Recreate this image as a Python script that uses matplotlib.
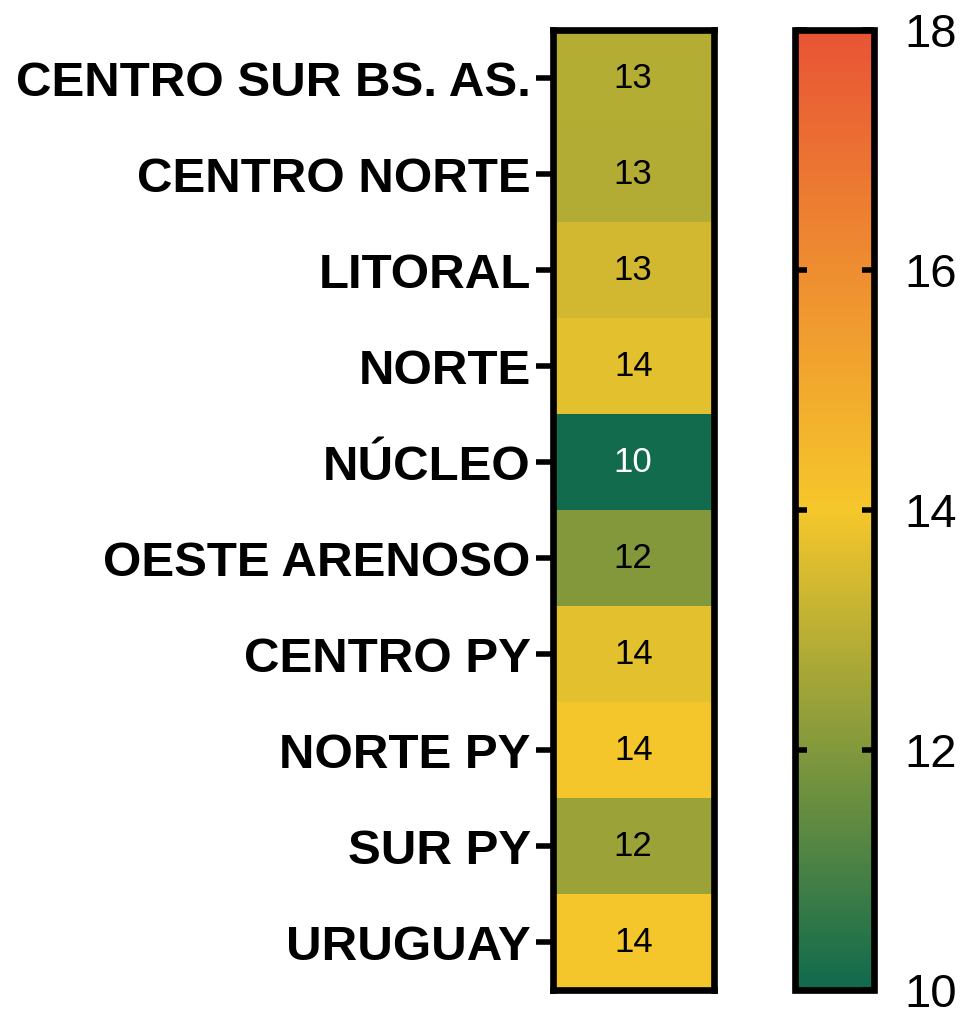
import numpy as np
import matplotlib
matplotlib.use("Agg")
import matplotlib.pyplot as plt
from matplotlib.colors import LinearSegmentedColormap, Normalize

plt.rcParams['font.family'] = ['Liberation Sans', 'DejaVu Sans']

regions = ["CENTRO SUR BS. AS.", "CENTRO NORTE", "LITORAL", "NORTE", "NÚCLEO",
           "OESTE ARENOSO", "CENTRO PY", "NORTE PY", "SUR PY", "URUGUAY"]
values = [12.89, 12.85, 13.40, 13.69, 10.07, 12.03, 13.69, 13.97, 12.45, 13.97]
cbar_ticks = [10, 12, 14, 16, 18]
vmin, vmax = 10, 18

cmap = LinearSegmentedColormap.from_list(
    "gyr", [(0.0, "#0f6a4d"), (0.5, "#f5c72b"), (1.0, "#e85435")])
norm = Normalize(vmin=vmin, vmax=vmax)

W, H = 969, 1015
fig = plt.figure(figsize=(W / 100, H / 100), dpi=100)

top_px, bot_px = 30, 990
ax = fig.add_axes([553 / W, (H - bot_px) / H, (713.5 - 553) / W, (bot_px - top_px) / H])
cax = fig.add_axes([795 / W, (H - bot_px) / H, (874 - 795) / W, (bot_px - top_px) / H])

data = np.array(values).reshape(-1, 1)
n = len(regions)
ax.imshow(data, cmap=cmap, norm=norm, aspect='auto',
          extent=(-0.5, 0.5, n - 0.5, -0.5), interpolation='nearest')
ax.set_xlim(-0.5, 0.5)
ax.set_ylim(n - 0.5, -0.5)

for i, v in enumerate(values):
    col = 'white' if v < 11 else 'black'
    ax.text(0, i, f"{v:.0f}", ha='center', va='center', fontsize=25, color=col)

ax.set_xticks([])
ax.set_yticks(range(n))
ax.set_yticklabels(regions, fontsize=35.5, fontweight='bold')
ax.tick_params(axis='y', direction='out', length=12, width=4, pad=4)
for sp in ax.spines.values():
    sp.set_linewidth(4.8)

cb = fig.colorbar(plt.cm.ScalarMappable(norm=norm, cmap=cmap), cax=cax)
cb.set_ticks(cbar_ticks)
cb.set_ticklabels([str(t) for t in cbar_ticks])
cax.tick_params(axis='y', direction='in', left=True, right=True, length=8.5,
                width=4, labelsize=34, pad=22)
cb.outline.set_linewidth(4.8)

fig.savefig("out.png", dpi=100)
